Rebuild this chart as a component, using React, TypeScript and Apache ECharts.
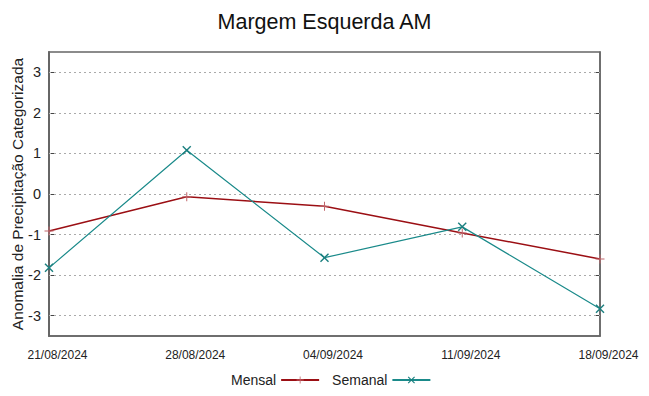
import React, { useEffect, useRef } from "react";
import * as echarts from "echarts";

const categories = ["21/08/2024", "28/08/2024", "04/09/2024", "11/09/2024", "18/09/2024"];
const mensal = [-0.91, -0.07, -0.3, -0.96, -1.6];
const semanal = [-1.82, 1.08, -1.57, -0.81, -2.83];
const yTicks = [-3, -2, -1, 0, 1, 2, 3];

const plusPath = "path://M4,0h1v9h-1z M0,4h9v1h-9z";
const crossPath = "path://M0,1 L1,0 L9,8 L8,9 Z M8,0 L9,1 L1,9 L0,8 Z";

export default function App() {
  const ref = useRef<HTMLDivElement>(null);
  useEffect(() => {
    if (!ref.current) return;
    const chart = echarts.init(ref.current, null, { renderer: "svg" });
    const font = "Liberation Sans, Arial, sans-serif";
    chart.setOption({
      animation: false,
      textStyle: { fontFamily: font },
      title: {
        text: "Margem Esquerda AM",
        left: "center",
        top: 6,
        textStyle: { fontSize: 21.5, fontWeight: "normal", color: "#111", fontFamily: font },
      },
      grid: {
        left: 49,
        right: 49,
        top: 52,
        bottom: 60,
        outerBoundsMode: "none",
        containLabel: false,
        show: true,
        borderColor: "#666",
        borderWidth: 1.5,
      },
      legend: {
        bottom: 4,
        left: 226,
        align: "right",
        itemWidth: 38,
        itemHeight: 9,
        itemGap: 12,
        textStyle: { fontSize: 14, color: "#222", fontFamily: font },
        data: ["Mensal", "Semanal"],
      },
      xAxis: {
        type: "category",
        data: categories,
        boundaryGap: false,
        axisLine: { show: true, onZero: false, lineStyle: { color: "#666", width: 1.5 } },
        axisTick: { show: false },
        axisLabel: {
          fontSize: 12,
          color: "#222",
          margin: 13,
          fontFamily: font,
          padding: [0, 0, 0, 17],
        },
        splitLine: { show: false },
      },
      yAxis: [
        {
          type: "value",
          min: -3.5,
          max: 3.5,
          axisLine: { show: true, lineStyle: { color: "#666", width: 2 } },
          axisTick: { show: true, inside: true, length: 5, lineStyle: { color: "#444" }, customValues: yTicks },
          axisLabel: {
            fontSize: 14.5,
            color: "#222",
            margin: 8,
            fontFamily: font,
            customValues: yTicks,
          },
          splitLine: { show: false },
          name: "Anomalia de Precipitação Categorizada",
          nameLocation: "middle",
          nameGap: 24,
          nameMoveOverlap: false,
          nameTextStyle: { fontSize: 15.5, color: "#222", fontFamily: font },
        },
        {
          type: "value",
          min: -3.5,
          max: 3.5,
          position: "right",
          axisLine: { show: true, lineStyle: { color: "#666", width: 1.5 } },
          axisTick: { show: true, inside: true, length: 5, lineStyle: { color: "#444" }, customValues: yTicks },
          axisLabel: { show: false },
          splitLine: { show: false },
        },
      ],
      series: [
        {
          name: "Mensal",
          type: "line",
          data: mensal,
          symbol: plusPath,
          symbolSize: 9,
          showAllSymbol: true,
          z: 3,
          lineStyle: { color: "#9b0f14", width: 1.5 },
          itemStyle: { color: "#c0646a" },
          markLine: {
            silent: true,
            symbol: "none",
            label: { show: false },
            lineStyle: { color: "#aaa", type: [2, 3], width: 1 },
            data: yTicks.map((v) => ({ yAxis: v })),
            z: 1,
          },
        },
        {
          name: "Semanal",
          type: "line",
          data: semanal,
          symbol: crossPath,
          symbolSize: 9,
          showAllSymbol: true,
          z: 4,
          lineStyle: { color: "#1a8a8a", width: 1.2 },
          itemStyle: { color: "#1a7f7f" },
        },
      ],
    });
    return () => chart.dispose();
  }, []);
  return <div ref={ref} style={{ width: 649, height: 396, position: "absolute", left: 0, top: 0 }} />;
}
